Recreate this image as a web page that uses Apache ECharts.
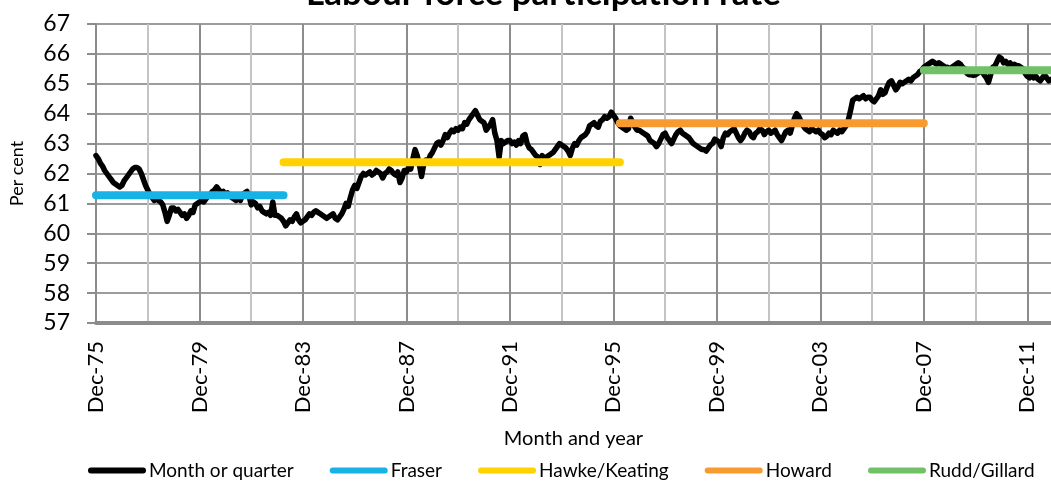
<!DOCTYPE html>
<html>
<head>
<meta charset="utf-8">
<script src="https://cdn.jsdelivr.net/npm/echarts@6/dist/echarts.min.js"></script>
<style>
  html, body { margin: 0; padding: 0; background: #fff; }
  #chart { width: 1051px; height: 482px; }
</style>
</head>
<body>
<div id="chart"></div>
<script>
// participation rate, one value a month from Dec-75 (rows of 12 months)
const rate = [
  62.6, 62.5, 62.35, 62.25, 62.1, 62.0, 61.9, 61.8, 61.7, 61.65, 61.6, 61.55,
  61.6, 61.75, 61.85, 61.95, 62.05, 62.15, 62.2, 62.2, 62.15, 62.0, 61.8, 61.6,
  61.45, 61.3, 61.2, 61.1, 61.15, 61.1, 61.05, 60.95, 60.7, 60.4, 60.6, 60.85,
  60.85, 60.75, 60.8, 60.7, 60.6, 60.65, 60.5, 60.6, 60.75, 60.7, 60.95, 61.0,
  61.05, 61.1, 61.05, 61.15, 61.25, 61.3, 61.4, 61.45, 61.55, 61.45, 61.35, 61.4,
  61.3, 61.35, 61.25, 61.2, 61.15, 61.1, 61.2, 61.1, 61.3, 61.35, 61.4, 61.25,
  60.95, 61.05, 61.0, 60.85, 60.9, 60.75, 60.7, 60.65, 60.7, 60.6, 61.05, 60.6,
  60.6, 60.55, 60.5, 60.4, 60.25, 60.35, 60.45, 60.4, 60.55, 60.65, 60.45, 60.35,
  60.4, 60.45, 60.55, 60.65, 60.6, 60.7, 60.75, 60.7, 60.65, 60.6, 60.55, 60.5,
  60.55, 60.6, 60.65, 60.5, 60.45, 60.55, 60.65, 60.8, 61.0, 60.9, 61.2, 61.45,
  61.6, 61.5, 61.7, 61.9, 62.0, 61.95, 62.0, 62.05, 61.95, 62.0, 62.1, 62.05,
  62.0, 61.85, 62.0, 62.05, 62.15, 62.1, 62.0, 61.95, 62.05, 61.7, 61.85, 62.1,
  62.05, 62.2, 62.15, 62.5, 62.8, 62.6, 62.3, 61.9, 62.3, 62.45, 62.4, 62.6,
  62.7, 62.85, 63.0, 63.05, 62.95, 63.1, 63.3, 63.2, 63.35, 63.45, 63.4, 63.5,
  63.45, 63.55, 63.5, 63.7, 63.65, 63.8, 63.9, 64.0, 64.1, 63.95, 63.8, 63.75,
  63.7, 63.45, 63.55, 63.65, 63.8, 63.35, 63.1, 62.55, 63.1, 63.0, 63.05, 63.1,
  63.1, 63.0, 63.05, 62.95, 63.1, 63.0, 63.25, 63.3, 63.0, 62.85, 62.8, 62.7,
  62.6, 62.55, 62.3, 62.6, 62.5, 62.55, 62.6, 62.65, 62.7, 62.8, 62.9, 63.0,
  62.95, 62.9, 62.85, 62.75, 62.6, 62.85, 63.0, 62.95, 63.1, 63.2, 63.25, 63.3,
  63.4, 63.6, 63.65, 63.7, 63.6, 63.55, 63.75, 63.8, 63.9, 63.85, 63.9, 64.05,
  63.95, 63.85, 63.7, 63.6, 63.55, 63.5, 63.45, 63.5, 63.85, 63.7, 63.55, 63.45,
  63.45, 63.4, 63.35, 63.3, 63.25, 63.1, 63.05, 63.0, 62.9, 63.0, 63.15, 63.3,
  63.35, 63.2, 63.1, 63.0, 63.15, 63.3, 63.4, 63.45, 63.35, 63.3, 63.25, 63.2,
  63.1, 63.0, 62.95, 62.9, 62.85, 62.8, 62.8, 62.75, 62.85, 62.95, 63.0, 63.15,
  63.1, 63.05, 62.9, 63.2, 63.35, 63.3, 63.4, 63.45, 63.5, 63.35, 63.2, 63.1,
  63.2, 63.35, 63.45, 63.4, 63.25, 63.2, 63.35, 63.4, 63.5, 63.45, 63.3, 63.4,
  63.45, 63.35, 63.4, 63.45, 63.3, 63.2, 63.1, 63.25, 63.4, 63.45, 63.35, 63.6,
  63.85, 64.0, 63.9, 63.75, 63.6, 63.5, 63.45, 63.4, 63.5, 63.45, 63.4, 63.45,
  63.35, 63.3, 63.2, 63.25, 63.35, 63.3, 63.45, 63.4, 63.35, 63.45, 63.4, 63.5,
  63.6, 63.8, 64.1, 64.45, 64.5, 64.55, 64.5, 64.55, 64.6, 64.5, 64.55, 64.55,
  64.45, 64.4, 64.5, 64.6, 64.8, 64.65, 64.7, 64.9, 65.05, 65.1, 64.95, 64.8,
  64.9, 65.05, 65.0, 65.05, 65.1, 65.15, 65.1, 65.2, 65.25, 65.3, 65.4, 65.45,
  65.55, 65.6, 65.65, 65.7, 65.75, 65.7, 65.65, 65.7, 65.65, 65.6, 65.55, 65.55,
  65.5, 65.55, 65.6, 65.65, 65.7, 65.65, 65.55, 65.5, 65.35, 65.3, 65.3, 65.28,
  65.3, 65.35, 65.45, 65.4, 65.3, 65.2, 65.05, 65.3, 65.55, 65.6, 65.75, 65.9,
  65.85, 65.7, 65.75, 65.65, 65.7, 65.6, 65.65, 65.6, 65.6, 65.55, 65.5, 65.35,
  65.25, 65.2, 65.3, 65.2, 65.25, 65.15, 65.1, 65.2, 65.3, 65.2, 65.1, 65.15
];

// governments: name, first and last month index, average rate
const govNames = ['Fraser', 'Hawke/Keating', 'Howard', 'Rudd/Gillard'];
const govStart = [0, 87, 243, 384];
const govEnd = [87, 243, 384, 443];
const govAvg = [61.27, 62.38, 63.68, 65.45];
const govColors = ['#17b3e6', '#ffd200', '#f79b31', '#72c169'];

const monthNames = ['Jan', 'Feb', 'Mar', 'Apr', 'May', 'Jun', 'Jul', 'Aug', 'Sep', 'Oct', 'Nov', 'Dec'];
const months = rate.map(function (v, i) {
  const m = (11 + i) % 12;
  const y = (1975 + Math.floor((11 + i) / 12)) % 100;
  return monthNames[m] + '-' + String(y).padStart(2, '0');
});

const font = 'Lato, "Open Sans", sans-serif';
const capsule = 'path://M3,0 H55 A3,3 0 0 1 55,6 H3 A3,3 0 0 1 3,0 Z';

const series = [{
  name: 'Month or quarter',
  type: 'line',
  data: rate,
  symbol: 'none',
  z: 3,
  lineStyle: { color: '#000', width: 5.5, join: 'round', cap: 'round' },
  itemStyle: { color: '#000' }
}];
govNames.forEach(function (name, g) {
  series.push({
    name: name,
    type: 'line',
    data: rate.map(function (v, i) {
      return (i >= govStart[g] && i <= govEnd[g]) ? govAvg[g] : null;
    }),
    symbol: 'none',
    z: 4,
    lineStyle: { color: govColors[g], width: 8, cap: 'round' },
    itemStyle: { color: govColors[g] }
  });
});

const chart = echarts.init(document.getElementById('chart'), null, { renderer: 'canvas' });
chart.setOption({
  animation: false,
  textStyle: { fontFamily: font },
  title: {
    text: 'Labour force participation rate',
    left: 306,
    top: -24,
    padding: 0,
    textStyle: { fontFamily: font, fontSize: 35, fontWeight: 'bold', color: '#000' }
  },
  grid: { left: 91, right: 0, top: 24, bottom: 159, containLabel: false },
  legend: {
    left: 88,
    top: 461,
    padding: 0,
    itemWidth: 58,
    itemHeight: 6,
    itemGap: 36,
    icon: capsule,
    textStyle: { fontFamily: font, fontSize: 19, color: '#000', padding: [0, 0, 0, -2] },
    data: ['Month or quarter'].concat(govNames)
  },
  xAxis: {
    type: 'category',
    data: months,
    boundaryGap: false,
    name: 'Month and year',
    nameLocation: 'middle',
    nameGap: 106,
    nameTextStyle: { fontFamily: font, fontSize: 20, color: '#000' },
    axisLine: { lineStyle: { color: '#8c8c8c', width: 4 } },
    axisTick: { show: false },
    axisLabel: {
      interval: 47,
      rotate: 90,
      margin: 18,
      fontFamily: font,
      fontSize: 22,
      color: '#000'
    },
    splitLine: {
      show: true,
      interval: 23,
      lineStyle: { color: ['#8c8c8c', '#c4c4c4'], width: 2 }
    }
  },
  yAxis: {
    type: 'value',
    min: 57,
    max: 67,
    interval: 1,
    name: 'Per cent',
    nameLocation: 'middle',
    nameGap: 70,
    nameTextStyle: { fontFamily: font, fontSize: 18, color: '#000' },
    axisLine: { show: true, lineStyle: { color: '#8c8c8c', width: 2 } },
    axisTick: { show: true, length: 9, lineStyle: { color: '#8c8c8c', width: 2 } },
    axisLabel: { fontFamily: font, fontSize: 23, color: '#000', margin: 26 },
    splitLine: { lineStyle: { color: '#9c9c9c', width: 2 } }
  },
  series: series
});
</script>
</body>
</html>
